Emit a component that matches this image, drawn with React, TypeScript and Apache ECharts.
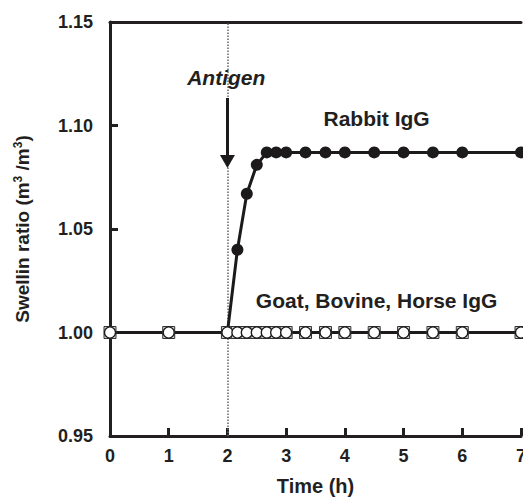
import React, { useEffect, useRef } from "react";
import * as echarts from "echarts";

const rabbitTimes = [2, 2.17, 2.33, 2.5, 2.67, 2.83, 3, 3.33, 3.67, 4, 4.5, 5, 5.5, 6, 7];
const rabbitValues = [1.0, 1.040, 1.067, 1.081, 1.087, 1.087, 1.087, 1.087, 1.087, 1.087, 1.087, 1.087, 1.087, 1.087, 1.087];
const controlTimes = [0, 1, 2, 2.17, 2.33, 2.5, 2.67, 2.83, 3, 3.33, 3.67, 4, 4.5, 5, 5.5, 6, 7];
const goatValues = [1.0, 1.0, 1.0, 1.0, 1.0, 1.0, 1.0, 1.0, 1.0, 1.0, 1.0, 1.0, 1.0, 1.0, 1.0, 1.0, 1.0];
const horseValues = [1.0, 1.0, 1.0, 1.0, 1.0, 1.0, 1.0, 1.0, 1.0, 1.0, 1.0, 1.0, 1.0, 1.0, 1.0, 1.0, 1.0];
const antigenTime = 2;
const arrowFrom = 1.1133;
const arrowTo = 1.0826;
const labels = [
  { text: "Antigen", coord: [1.98, 1.1234], italic: true },
  { text: "Rabbit IgG", coord: [4.54, 1.1032], italic: false },
  { text: "Goat, Bovine, Horse IgG", coord: [4.54, 1.0157], italic: false },
];

const FONT = "'Liberation Sans', Arial, Helvetica, sans-serif";
const INK = "#231f20";

export default function App() {
  const ref = useRef<HTMLDivElement>(null);
  useEffect(() => {
    if (!ref.current) return;
    const chart = echarts.init(ref.current, undefined, { renderer: "svg" });
    chart.setOption({
      animation: false,
      backgroundColor: "#ffffff",
      grid: { left: 110, top: 22, right: 2, bottom: 62, outerBoundsMode: "none", containLabel: false },
      xAxis: [
        {
          type: "value",
          min: 0,
          max: 7,
          interval: 1,
          name: "Time (h)",
          nameLocation: "middle",
          nameGap: 40,
          nameTextStyle: { fontFamily: FONT, fontWeight: "bold", fontSize: 20, color: INK },
          axisLine: { show: true, lineStyle: { color: INK, width: 3 } },
          axisTick: { show: true, inside: true, length: 8, lineStyle: { color: INK, width: 3 } },
          axisLabel: { margin: 11, fontFamily: FONT, fontWeight: "bold", fontSize: 18, color: INK },
          splitLine: { show: false },
        },
        {
          type: "value",
          position: "top",
          min: 0,
          max: 7,
          axisLine: { show: true, lineStyle: { color: INK, width: 3 } },
          axisTick: { show: false },
          axisLabel: { show: false },
          splitLine: { show: false },
        },
      ],
      yAxis: [
        {
          type: "value",
          min: 0.95,
          max: 1.15,
          interval: 0.05,
          name: "{n|Swellin ratio (m}{s|3}{n| /m}{s|3}{n|)}",
          nameLocation: "middle",
          nameGap: 78,
          nameRotate: 90,
          nameTextStyle: {
            fontFamily: FONT,
            fontWeight: "bold",
            fontSize: 19,
            color: INK,
            rich: {
              n: { fontFamily: FONT, fontWeight: "bold", fontSize: 19, color: INK },
              s: { fontFamily: FONT, fontWeight: "bold", fontSize: 12, color: INK, verticalAlign: "top", padding: [0, 0, 8, 0] },
            },
          },
          axisLine: { show: true, lineStyle: { color: INK, width: 3 } },
          axisTick: { show: true, inside: true, length: 8, lineStyle: { color: INK, width: 3 } },
          axisLabel: {
            margin: 17,
            fontFamily: FONT,
            fontWeight: "bold",
            fontSize: 18,
            color: INK,
            formatter: (v: number) => v.toFixed(2),
          },
          splitLine: { show: false },
        },
        {
          type: "value",
          position: "right",
          min: 0.95,
          max: 1.15,
          axisLine: { show: true, lineStyle: { color: INK, width: 1 } },
          axisTick: { show: false },
          axisLabel: { show: false },
          splitLine: { show: false },
        },
      ],
      series: [
        {
          name: "Rabbit IgG",
          type: "line",
          clip: false,
          data: rabbitTimes.map((t, i) =>
            i === 0 ? { value: [t, rabbitValues[i]], symbol: "none" } : [t, rabbitValues[i]]
          ),
          symbol: "circle",
          symbolSize: 12,
          itemStyle: { color: "#1c1a1b" },
          lineStyle: { color: "#1c1a1b", width: 3 },
          z: 2,
          markLine: {
            silent: true,
            animation: false,
            z: 1,
            label: { show: false },
            data: [
              {
                xAxis: antigenTime,
                symbol: "none",
                lineStyle: { type: "dotted", color: "#666", width: 1.5 },
              },
              [
                { coord: [antigenTime, arrowFrom], symbol: "none" },
                { coord: [antigenTime, arrowTo], symbol: "triangle", symbolSize: [15, 13] },
              ],
            ],
            lineStyle: { type: "solid", color: "#1c1a1b", width: 3 },
            symbol: ["none", "none"],
          },
          markPoint: {
            silent: true,
            animation: false,
            symbol: "rect",
            symbolSize: 0,
            data: labels.map((l) => ({
              coord: l.coord,
              label: {
                show: true,
                position: "inside",
                formatter: l.text,
                fontFamily: FONT,
                fontWeight: "bold",
                fontStyle: l.italic ? "italic" : "normal",
                fontSize: 21,
                color: INK,
              },
            })),
          },
        },
        {
          name: "Goat IgG",
          type: "line",
          clip: false,
          data: controlTimes.map((t, i) => [t, goatValues[i]]),
          symbol: "rect",
          symbolSize: 12,
          itemStyle: { color: "#cfcfcf", borderColor: "#333", borderWidth: 1 },
          lineStyle: { color: "#1c1a1b", width: 3 },
          z: 3,
        },
        {
          name: "Horse IgG",
          type: "line",
          clip: false,
          data: controlTimes.map((t, i) => [t, horseValues[i]]),
          symbol: "circle",
          symbolSize: 11,
          itemStyle: { color: "#ffffff", borderColor: "#1c1a1b", borderWidth: 1.3 },
          lineStyle: { width: 0, opacity: 0 },
          z: 4,
        },
      ],
    });
    return () => chart.dispose();
  }, []);
  return <div ref={ref} style={{ width: 523, height: 498, position: "absolute", left: 0, top: 0 }} />;
}
